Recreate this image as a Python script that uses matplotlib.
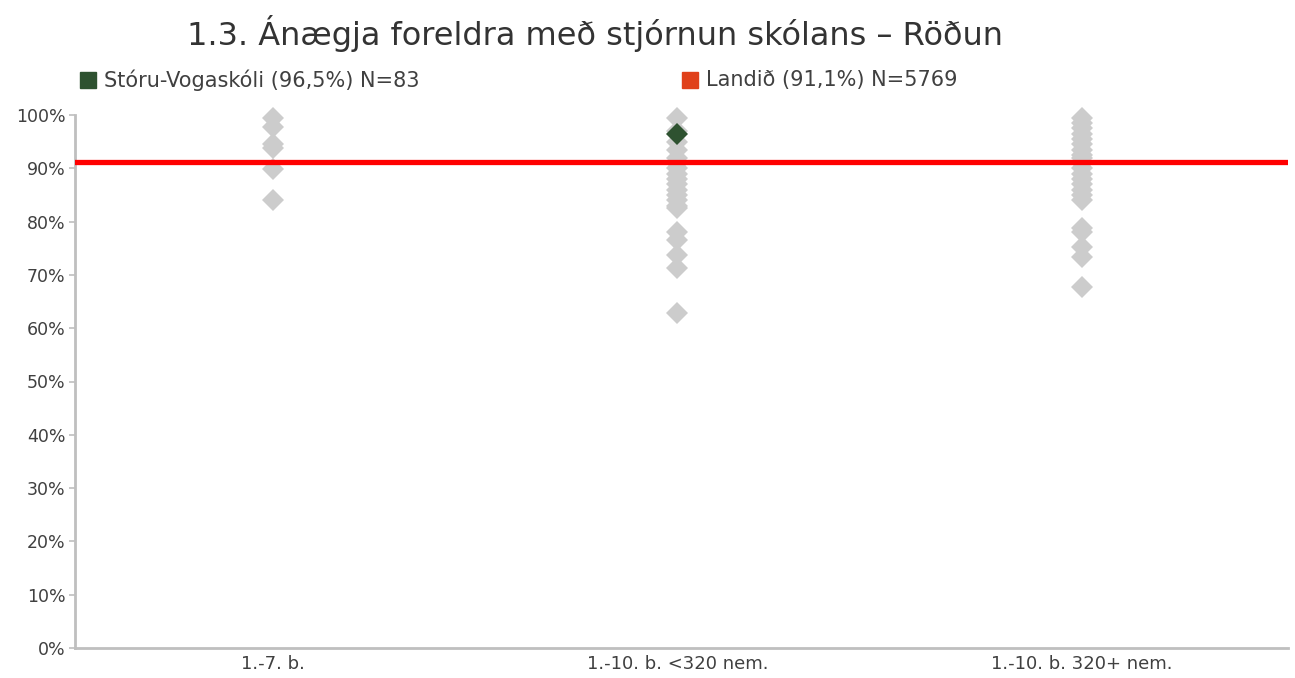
import matplotlib
matplotlib.use("Agg")
import matplotlib.pyplot as plt
from matplotlib.patches import Rectangle

plt.rcParams['font.family'] = ['DejaVu Sans']

title = "1.3. Ánægja foreldra með stjórnun skólans – Röðun"
categories = ["1.-7. b.", "1.-10. b. <320 nem.", "1.-10. b. 320+ nem."]
group1 = [99.5, 97.8, 94.5, 93.8, 89.8, 84.0]
group2 = [99.5, 97.0, 95.0, 93.5, 92.0, 91.0, 90.0, 89.0, 88.0, 87.0, 86.0, 85.0,
          84.0, 83.0, 82.5, 78.0, 76.5, 73.7, 71.3, 62.8]
group3 = [99.5, 98.5, 97.5, 96.5, 95.5, 94.5, 93.5, 92.5, 92.0, 91.0, 90.0, 89.0,
          88.0, 87.0, 86.0, 85.0, 84.0, 78.8, 78.0, 75.2, 73.4, 67.7]
school_name = "Stóru-Vogaskóli (96,5%) N=83"
school_cat = 1
school_value = 96.5
national_name = "Landið (91,1%) N=5769"
national_value = 91.1
yticks = [0, 10, 20, 30, 40, 50, 60, 70, 80, 90, 100]
ytick_labels = ["0%", "10%", "20%", "30%", "40%", "50%", "60%", "70%", "80%", "90%", "100%"]

W, H = 1295, 678
fig = plt.figure(figsize=(W / 100, H / 100), dpi=100)
ax = fig.add_axes([75 / W, 1 - 648 / H, (1288 - 75) / W, (648 - 115) / H])

gray = "#CCCCCC"
green = "#2E5230"
red = "#FF0000"
txt = "#404040"

for i, grp in enumerate([group1, group2, group3]):
    ax.plot([i] * len(grp), grp, linestyle="none", marker="D", ms=11.7,
            mew=0, color=gray, clip_on=False, zorder=2)
ax.axhline(national_value, color=red, lw=3.8, zorder=3)
ax.plot([school_cat], [school_value], linestyle="none", marker="D", ms=11.7,
        mew=0, color=green, clip_on=False, zorder=4)

ax.set_xlim(-0.49, 2.51)
ax.set_ylim(0, 100)
ax.set_xticks(range(len(categories)))
ax.set_xticklabels(categories, fontsize=13, color=txt)
ax.tick_params(axis="x", length=0, pad=5)
ax.set_yticks(yticks)
ax.set_yticklabels(ytick_labels, fontsize=12.5, color=txt)
ax.tick_params(axis="y", length=4, width=1.2, color="#BFBFBF", pad=3)
for s in ["top", "right"]:
    ax.spines[s].set_visible(False)
for s in ["left", "bottom"]:
    ax.spines[s].set_color("#BFBFBF")
    ax.spines[s].set_linewidth(2)

fig.text(595 / W, 1 - 33 / H, title, ha="center", va="center", fontsize=23, color="#333333")

# legend
for x0, col, lab in [(80, green, school_name), (682, "#E0401A", national_name)]:
    fig.patches.append(Rectangle((x0 / W, 1 - 88 / H), 16 / W, 16 / H,
                                 transform=fig.transFigure, color=col))
    fig.text((x0 + 24) / W, 1 - 80 / H, lab, ha="left", va="center", fontsize=15, color=txt)

fig.savefig("out.png", dpi=100)
